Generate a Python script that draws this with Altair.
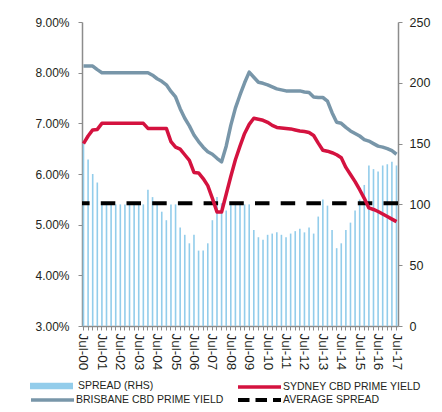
import altair as alt
import pandas as pd

# ---------------- data ----------------
MONTHS = ["Jul", "Oct", "Jan", "Apr"]
QUARTERS = [f"{MONTHS[i % 4]}-{(i + 2) // 4:02d}" for i in range(69)]

SPREAD_BPS = [151, 137, 125, 118, 100, 100, 100, 100, 100, 100, 100, 100, 100, 100,
              112, 106, 100, 94, 87, 100, 100, 81, 75, 68, 75, 62, 62, 68, 87, 106,
              101, 95, 100, 100, 100, 100, 100, 79, 73, 71, 75, 76, 77, 75, 73, 76,
              78, 80, 77, 81, 76, 90, 104, 99, 79, 64, 68, 79, 85, 95, 104, 116,
              132, 129, 127, 132, 133, 135, 132]

SYDNEY_YIELD = [6.60, 6.75, 6.87, 6.88, 7.00, 7.00, 7.00, 7.00, 7.00, 7.00, 7.00, 7.00,
                7.00, 7.00, 6.90, 6.90, 6.90, 6.90, 6.90, 6.64, 6.53, 6.49, 6.38, 6.27,
                6.03, 6.02, 5.91, 5.77, 5.52, 5.25, 5.25, 5.60, 5.95, 6.28, 6.55, 6.80,
                6.98, 7.10, 7.08, 7.06, 7.02, 6.96, 6.92, 6.91, 6.90, 6.89, 6.87, 6.85,
                6.84, 6.82, 6.76, 6.61, 6.47, 6.45, 6.42, 6.38, 6.32, 6.13, 5.99, 5.85,
                5.69, 5.52, 5.33, 5.30, 5.26, 5.21, 5.16, 5.11, 5.06]

BRISBANE_YIELD = [8.13, 8.13, 8.13, 8.06, 8.00, 8.00, 8.00, 8.00, 8.00, 8.00, 8.00, 8.00,
                  8.00, 8.00, 8.00, 7.95, 7.88, 7.83, 7.76, 7.63, 7.52, 7.29, 7.10, 6.95,
                  6.77, 6.64, 6.53, 6.44, 6.39, 6.31, 6.24, 6.55, 6.96, 7.30, 7.56, 7.80,
                  8.01, 7.91, 7.81, 7.79, 7.76, 7.72, 7.68, 7.66, 7.64, 7.64, 7.64, 7.64,
                  7.62, 7.61, 7.52, 7.51, 7.51, 7.44, 7.21, 7.02, 7.00, 6.92, 6.85, 6.80,
                  6.75, 6.68, 6.65, 6.60, 6.55, 6.53, 6.50, 6.46, 6.39]

AVERAGE_SPREAD = [101]
LEFT_TICKS = [3, 4, 5, 6, 7, 8, 9]
RIGHT_TICKS = [0, 50, 100, 150, 200, 250]
SERIES = ["SPREAD (RHS)", "SYDNEY CBD PRIME YIELD", "BRISBANE CBD PRIME YIELD", "AVERAGE SPREAD"]

# ---------------- style ----------------
FONT = "Liberation Sans"
TXT = "#231F20"
AXC = "#8C8C8C"
BLUE = "#93CDEB"
RED = "#D4123F"
GREYBLUE = "#7896A9"

df = pd.DataFrame({"quarter": QUARTERS, "spread": SPREAD_BPS,
                   "sydney": SYDNEY_YIELD, "brisbane": BRISBANE_YIELD})
avg_df = pd.DataFrame({"avg": AVERAGE_SPREAD})

x_enc = alt.X(
    "quarter:N", sort=QUARTERS,
    scale=alt.Scale(type="band", domain=QUARTERS, paddingInner=0.65, paddingOuter=0.15),
    axis=alt.Axis(title=None, labelAngle=90,
                  labelExpr="indexof(datum.value, 'Jul') == 0 ? datum.value : ''",
                  labelFontSize=13.5, labelPadding=3, tickSize=4, labelOverlap=False,
                  domainWidth=1.5, tickWidth=1),
)


def legend(x, y, offset, **kw):
    return alt.Legend(title=None, orient="none", legendX=x, legendY=y, padding=0,
                      labelFont=FONT, labelFontSize=10.5, labelColor=TXT, labelOffset=offset,
                      symbolSize=1849, **kw)


ROW1 = 341.5
ROW2 = 354.5

bars = alt.Chart(df).mark_bar(color=BLUE).transform_calculate(
    series=f"'{SERIES[0]}'"
).encode(
    x=x_enc,
    y=alt.Y("spread:Q", scale=alt.Scale(domain=[0, 250], nice=False),
            axis=alt.Axis(title=None, orient="right", values=RIGHT_TICKS, labelFontSize=12.5,
                          tickSize=4, labelPadding=7, domainWidth=1.5)),
    color=alt.Color("series:N", scale=alt.Scale(domain=[SERIES[0]], range=[BLUE]),
                    legend=legend(-53, ROW1, 4, symbolType="M-1,-0.15H1V0.15H-1Z")),
)

avg = alt.Chart(avg_df).mark_rule(strokeWidth=4, strokeDash=[14.5, 11.2]).transform_calculate(
    series=f"'{SERIES[3]}'"
).encode(
    y=alt.Y("avg:Q", scale=alt.Scale(domain=[0, 250], nice=False), axis=None),
    color=alt.Color("series:N", scale=alt.Scale(domain=[SERIES[3]], range=["#000000"]),
                    legend=legend(154, ROW2, 0, symbolType="stroke", symbolStrokeWidth=4,
                                  symbolDash=[11.5, 6])),
)

bris = alt.Chart(df).mark_line(strokeWidth=3.5, strokeJoin="round").transform_calculate(
    series=f"'{SERIES[2]}'"
).encode(
    x=x_enc,
    y=alt.Y("brisbane:Q", scale=alt.Scale(domain=[3, 9], nice=False, zero=False), axis=None),
    color=alt.Color("series:N", scale=alt.Scale(domain=[SERIES[2]], range=[GREYBLUE]),
                    legend=legend(-53, ROW2, 0, symbolType="stroke", symbolStrokeWidth=3.5)),
)

syd = alt.Chart(df).mark_line(strokeWidth=3.5, strokeJoin="round").transform_calculate(
    series=f"'{SERIES[1]}'"
).encode(
    x=x_enc,
    y=alt.Y("sydney:Q", scale=alt.Scale(domain=[3, 9], nice=False, zero=False),
            axis=alt.Axis(title=None, orient="left", values=LEFT_TICKS,
                          labelExpr="format(datum.value, '.2f') + '%'", labelFontSize=12,
                          tickSize=4, labelPadding=9, domainWidth=1.5)),
    color=alt.Color("series:N", scale=alt.Scale(domain=[SERIES[1]], range=[RED]),
                    legend=legend(154, ROW1, 0, symbolType="stroke", symbolStrokeWidth=3.5)),
)

chart = alt.layer(bars, avg, bris, syd).resolve_scale(
    y="independent", color="independent"
).properties(
    width=316, height=304,
    autosize=alt.AutoSizeParams(type="none"),
    padding={"left": 74, "top": 14, "right": 36, "bottom": 78},
).configure_axis(
    labelFont=FONT, labelColor=TXT, domainColor=AXC, tickColor=AXC, grid=False,
).configure_view(stroke=None)

chart.save("out.html", embed_options={"renderer": "svg", "actions": False})
